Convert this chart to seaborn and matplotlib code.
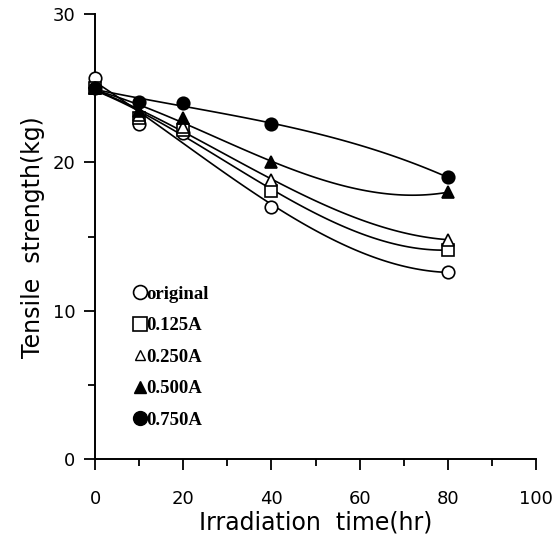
import matplotlib
matplotlib.use("Agg")
import matplotlib.pyplot as plt
from matplotlib.lines import Line2D
from matplotlib.ticker import MultipleLocator
import numpy as np
import pandas as pd
import seaborn as sns

# Irradiation time (hr) and tensile strength (kg) for each current setting
time_hr = [0, 10, 20, 40, 80]
original = [25.7, 22.6, 22.0, 17.0, 12.6]
a_0125 = [25.0, 23.0, 22.2, 18.1, 14.1]
a_0250 = [25.0, 23.2, 22.4, 18.8, 14.8]
a_0500 = [25.0, 23.5, 23.0, 20.0, 18.0]
a_0750 = [25.0, 24.1, 24.0, 22.6, 19.0]
labels = ["original", "0.125A", "0.250A", "0.500A", "0.750A"]

series = [original, a_0125, a_0250, a_0500, a_0750]
df = pd.DataFrame({
    "time": np.tile(time_hr, len(labels)),
    "strength": np.concatenate(series),
    "group": np.repeat(labels, len(time_hr)),
})

sns.set_style("ticks")
plt.rcParams["font.family"] = ["DejaVu Sans"]
plt.rcParams["text.color"] = "black"
plt.rcParams["axes.labelcolor"] = "black"
plt.rcParams["xtick.color"] = "black"
plt.rcParams["ytick.color"] = "black"

fig = plt.figure(figsize=(5.59, 5.44), dpi=100)
ax = fig.add_axes([0.170, 0.156, 0.789, 0.818])

styles = {
    "original": dict(marker="o", ms=9, mfc="white"),
    "0.125A": dict(marker="s", ms=8.5, mfc="white"),
    "0.250A": dict(marker="^", ms=9, mfc="white"),
    "0.500A": dict(marker="^", ms=9, mfc="black"),
    "0.750A": dict(marker="o", ms=9, mfc="black"),
}

for lab in labels:
    sub = df[df["group"] == lab]
    st = styles[lab]
    # smooth polynomial fit curve through each series
    sns.regplot(data=sub, x="time", y="strength", order=3, ci=None,
                scatter=False, truncate=True, ax=ax,
                line_kws=dict(color="black", lw=1.2))
    ax.plot(sub["time"], sub["strength"], ls="none", marker=st["marker"],
            ms=st["ms"], mfc=st["mfc"], mec="black", mew=1.2, zorder=5,
            clip_on=False)

ax.set_xlim(0, 100)
ax.set_ylim(0, 30)
ax.xaxis.set_major_locator(MultipleLocator(20))
ax.xaxis.set_minor_locator(MultipleLocator(10))
ax.yaxis.set_major_locator(MultipleLocator(10))
ax.yaxis.set_minor_locator(MultipleLocator(5))
ax.tick_params(which="major", direction="out", length=8, width=1.3,
               labelsize=13, pad=14)
ax.tick_params(which="minor", direction="out", length=5, width=1.3)
ax.tick_params(axis="y", pad=6)
for s in ["top", "right"]:
    ax.spines[s].set_visible(False)
for s in ["left", "bottom"]:
    ax.spines[s].set_linewidth(1.4)
    ax.spines[s].set_color("black")

ax.set_xlabel("Irradiation  time(hr)", fontsize=17, labelpad=2)
ax.set_ylabel("Tensile  strength(kg)", fontsize=17, labelpad=6)

handles = [
    Line2D([], [], ls="none", marker="o", ms=10, mfc="white", mec="black", mew=1.2),
    Line2D([], [], ls="none", marker="s", ms=10, mfc="white", mec="black", mew=1.2),
    Line2D([], [], ls="none", marker="^", ms=7, mfc="white", mec="black", mew=1.0),
    Line2D([], [], ls="none", marker="^", ms=9, mfc="black", mec="black"),
    Line2D([], [], ls="none", marker="o", ms=10, mfc="black", mec="black"),
]
leg = ax.legend(handles, labels, loc="upper left", bbox_to_anchor=(0.067, 0.411),
                frameon=False, handlelength=0.6, handletextpad=0.05,
                labelspacing=0.77, borderpad=0,
                prop=dict(family="Liberation Serif", weight="bold", size=13.5))

fig.savefig("out.png", dpi=100)
